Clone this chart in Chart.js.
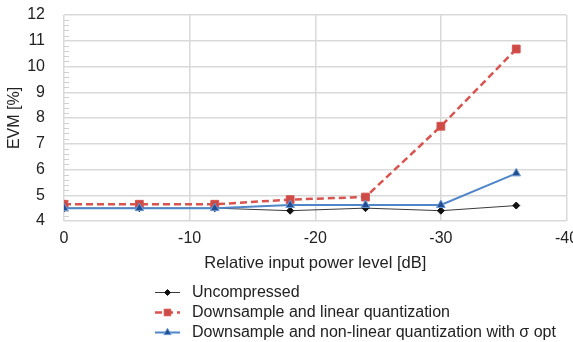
<!DOCTYPE html>
<html>
<head>
<meta charset="utf-8">
<script src="https://cdn.jsdelivr.net/npm/chart.js@4.4.1/dist/chart.umd.min.js"></script>
<style>
html,body{margin:0;padding:0;background:#fff;}
#wrap{width:573px;height:342px;position:relative;}
</style>
</head>
<body>
<div id="wrap"><canvas id="c" width="573" height="342"></canvas></div>
<script>
const xValues = [0, -6, -12, -18, -24, -30, -36];
const uncompressed = [4.5, 4.5, 4.5, 4.4, 4.5, 4.4, 4.6];
const linearQuant = [4.65, 4.65, 4.65, 4.83, 4.93, 7.68, 10.68];
const nonLinearQuant = [4.5, 4.5, 4.5, 4.62, 4.62, 4.62, 5.85];
const seriesNames = ['Uncompressed', 'Downsample and linear quantization', 'Downsample and non-linear quantization with \u03C3 opt'];
const xTickLabels = ['0', '-10', '-20', '-30', '-40'];
const yTickLabels = ['4', '5', '6', '7', '8', '9', '10', '11', '12'];
const xTitle = 'Relative input power level [dB]';
const yTitle = 'EVM [%]';

const FONT = "'Liberation Sans', Arial, sans-serif";
const pts = arr => arr.map((v, i) => ({x: xValues[i], y: v}));

const minorTicks = {
  id: 'minorTicks',
  beforeDatasetsDraw(chart) {
    const ctx = chart.ctx, y = chart.scales.y, a = chart.chartArea;
    ctx.save();
    ctx.strokeStyle = '#cfcfcf';
    ctx.lineWidth = 1;
    for (let v = 4; v <= 12.001; v += 0.2) {
      if (Math.abs(v - Math.round(v)) < 0.01) continue;
      const py = Math.round(y.getPixelForValue(v)) + 0.5;
      ctx.beginPath();
      ctx.moveTo(a.left, py);
      ctx.lineTo(a.left + 5, py);
      ctx.stroke();
    }
    ctx.restore();
  }
};

const customLegend = {
  id: 'customLegend',
  afterDraw(chart) {
    const ctx = chart.ctx;
    const rows = [292.5, 312.5, 332.5];
    ctx.save();
    chart.data.datasets.forEach((ds, i) => {
      const y = rows[i];
      ctx.strokeStyle = ds.borderColor;
      ctx.lineWidth = ds.borderWidth;
      ctx.setLineDash(ds.borderDash || []);
      ctx.beginPath();
      ctx.moveTo(155, y);
      ctx.lineTo(180, y);
      ctx.stroke();
      ctx.setLineDash([]);
      ctx.fillStyle = ds.pointBackgroundColor;
      ctx.strokeStyle = ds.pointBorderColor;
      ctx.lineWidth = ds.pointBorderWidth || 1;
      Chart.helpers.drawPoint(ctx, {
        pointStyle: ds.pointStyle, radius: ds.pointRadius * 0.85, borderWidth: ds.pointBorderWidth || 1, rotation: 0
      }, 167.5, y);
      ctx.fillStyle = '#222';
      ctx.font = '16px ' + FONT;
      ctx.textBaseline = 'middle';
      ctx.textAlign = 'left';
      ctx.fillText(ds.label, 192, y);
    });
    ctx.restore();
  }
};

new Chart(document.getElementById('c'), {
  type: 'line',
  data: {
    datasets: [
      {
        label: seriesNames[0], data: pts(uncompressed),
        borderColor: '#3a3a3a', borderWidth: 1, pointStyle: 'rectRot', pointRadius: 3.5,
        pointBackgroundColor: '#111', pointBorderColor: '#111', pointBorderWidth: 1, order: 3
      },
      {
        label: seriesNames[1], data: pts(linearQuant),
        borderColor: '#d9534f', borderWidth: 2.5, borderDash: [7, 4], pointStyle: 'rect', pointRadius: 5.5,
        pointBackgroundColor: '#cc4b47', pointBorderColor: '#d9534f', pointBorderWidth: 1, order: 2
      },
      {
        label: seriesNames[2], data: pts(nonLinearQuant),
        borderColor: '#4f86c9', borderWidth: 2, pointStyle: 'triangle', pointRadius: 5,
        pointBackgroundColor: '#254e91', pointBorderColor: '#6a9ad6', pointBorderWidth: 1, order: 1
      }
    ]
  },
  options: {
    animation: false,
    responsive: false,
    devicePixelRatio: 1,
    layout: {padding: {left: 0, right: 2, top: 15, bottom: 69}},
    plugins: {legend: {display: false}, tooltip: {enabled: false}},
    elements: {line: {tension: 0}},
    scales: {
      x: {
        type: 'linear', min: -40, max: 0, reverse: true,
        afterBuildTicks: s => { s.ticks = xTickLabels.map(t => ({value: Number(t)})); },
        ticks: {
          callback: (v) => xTickLabels.find(t => Number(t) === v),
          font: {family: FONT, size: 16}, color: '#222', padding: 8, maxRotation: 0
        },
        grid: {color: '#d9d9d9', lineWidth: 1.5, drawTicks: false},
        border: {display: false},
        title: {display: true, text: xTitle, font: {family: FONT, size: 16.5}, color: '#222', padding: 0},
        afterFit: s => { s.height = 52; s.paddingLeft = 0; s.paddingRight = 0; }
      },
      y: {
        type: 'linear', min: 4, max: 12,
        afterBuildTicks: s => { s.ticks = yTickLabels.map(t => ({value: Number(t)})); },
        ticks: {
          callback: (v) => yTickLabels.find(t => Number(t) === v),
          font: {family: FONT, size: 16}, color: '#222', padding: 19
        },
        grid: {color: '#d9d9d9', lineWidth: 1.5, drawTicks: false},
        border: {display: false},
        title: {display: true, text: yTitle, font: {family: FONT, size: 16}, color: '#222', padding: {top: 5, bottom: 0}},
        afterFit: s => { s.width = 64; s.paddingTop = 0; s.paddingBottom = 0; }
      }
    }
  },
  plugins: [minorTicks, customLegend]
});
</script>
</body>
</html>
